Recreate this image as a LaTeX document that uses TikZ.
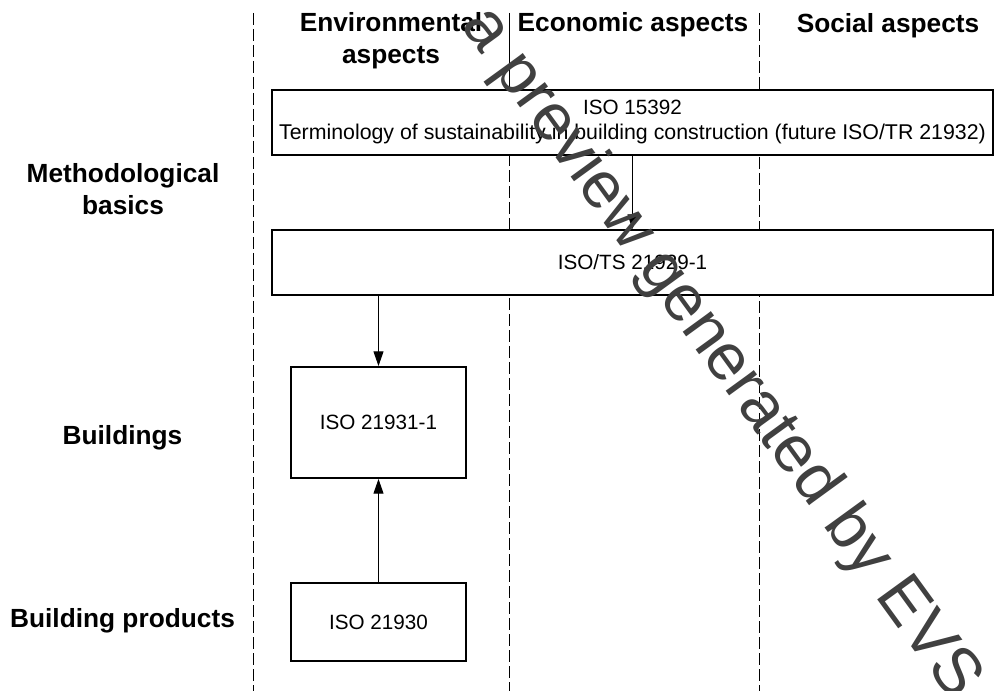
\documentclass[tikz,border=0pt]{standalone}
\usepackage{fontspec}
\setmainfont{Liberation Sans}
\usetikzlibrary{arrows.meta}
\definecolor{wmgray}{RGB}{64,64,64}
\begin{document}
\begin{tikzpicture}[x=0.75pt,y=-0.75pt,
  hdr/.style={font=\fontsize{19.7}{24}\selectfont\bfseries, align=center, inner sep=0pt},
  stdbox/.style={draw, line width=1.5pt, fill=white, font=\fontsize{15.5}{18.75}\selectfont, align=center, inner sep=0pt},
  divider/.style={line width=0.75pt, dash pattern=on 9pt off 3pt},
  solidline/.style={line width=0.75pt},
  link/.style={line width=0.75pt, -{Triangle[length=11pt,width=7.5pt]}},
  wm/.style={text=wmgray, font=\fontsize{49.5}{50}\selectfont, rotate=-54, inner sep=0pt}]
\useasboundingbox[fill=white] (0,0) rectangle (1003,691);

% column dividers
\coordinate (d1t) at (253,13);  \coordinate (d1b) at (253,691);
\coordinate (d2t) at (509,13);  \coordinate (d2m) at (509,90); \coordinate (d2b) at (509,691);
\coordinate (d3t) at (759,13);  \coordinate (d3b) at (759,691);
\draw[divider] (d1t) -- (d1b);
\draw[solidline] (d2t) -- (d2m);
\draw[divider] (d2m) -- (d2b);
\draw[divider] (d3t) -- (d3b);

% column headers
\node[hdr] (henv) at (391,40.7) {Environmental\\aspects};
\node[hdr, anchor=base] (heco) at (633,32) {Economic aspects};
\node[hdr, anchor=base] (hsoc) at (888,33) {Social aspects};

% row headers
\node[hdr] (rmeth) at (123,189) {Methodological\\basics};
\node[hdr, anchor=base] (rbuild) at (122.5,445) {Buildings};
\node[hdr, anchor=base] (rprod) at (122.5,627) {Building products};

% boxes
\node[stdbox, minimum width=540.75pt, minimum height=48.75pt] (b1) at (632.5,122.5)
  {ISO 15392\\{\fontsize{16}{18.75}\selectfont Terminology of sustainability in building construction (future ISO/TR 21932)}};
\node[stdbox, minimum width=540.75pt, minimum height=48.75pt] (b2) at (632.5,262.5) {ISO/TS 21929-1};
\node[stdbox, minimum width=131.25pt, minimum height=83.25pt] (b3) at (378.5,422.5) {ISO 21931-1};
\node[stdbox, minimum width=131.25pt, minimum height=58.5pt] (b4) at (378.5,622) {ISO 21930};

% connectors
\draw[link] (b1.south) -- (b2.north);
\draw[link] (b2.south -| b3.north) -- (b3.north);
\draw[link] (b4.north) -- (b3.south);

% watermark
\node[wm] (wmark) at (720,354) {a preview generated by EVS};
\end{tikzpicture}
\end{document}
